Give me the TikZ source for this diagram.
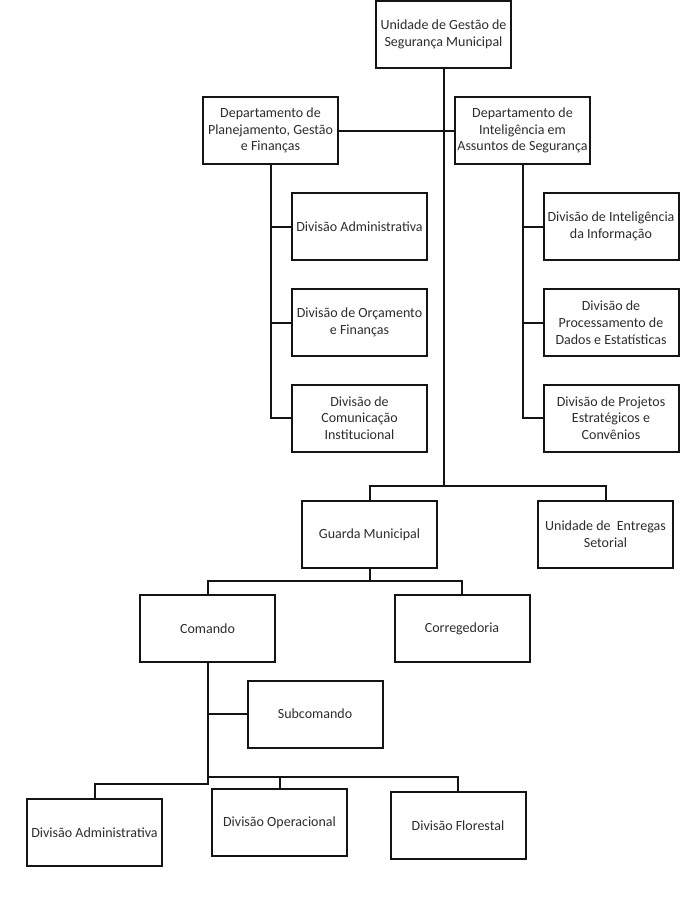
\documentclass[tikz,border=0pt]{standalone}
\usepackage{fontspec}
\setmainfont{Carlito}
\definecolor{txt}{RGB}{45,45,45}
\definecolor{ln}{RGB}{20,20,20}
\begin{document}
\begin{tikzpicture}[x=1pt,y=-1pt,
  box/.style={draw=ln, line width=2pt, minimum width=135pt, minimum height=67pt,
    align=center, inner sep=1pt, text=txt,
    font=\fontsize{14pt}{16.7pt}\selectfont},
  conn/.style={draw=ln, line width=2pt}]
\useasboundingbox (0,0) rectangle (700,908);
\fill[white] (0,0) rectangle (700,908);

\node[box] (top) at (443.5,34.5) {Unidade de Gestão de\\Segurança Municipal};
\node[box] (dL) at (270.5,130.5) {Departamento de\\Planejamento, Gestão\\e Finanças};
\node[box] (dR) at (522.5,130.5) {Departamento de\\Inteligência em\\Assuntos de Segurança};

\node[box] (L1) at (359.5,226.5) {Divisão Administrativa};
\node[box] (L2) at (359.5,322.5) {Divisão de Orçamento\\e Finanças};
\node[box] (L3) at (359.5,418) {Divisão de\\Comunicação\\Institucional};

\node[box] (R1) at (611,226.5) {Divisão de Inteligência\\da Informação};
\node[box] (R2) at (611,322.5) {Divisão de\\Processamento de\\Dados e Estatísticas};
\node[box] (R3) at (611,418) {Divisão de Projetos\\Estratégicos e\\Convênios};

\node[box] (guarda) at (369.5,534.5) {Guarda Municipal};
\node[box] (entregas) at (605.5,534.5) {Unidade de\ \ Entregas\\Setorial};

\node[box] (comando) at (207.5,628.3) {Comando};
\node[box] (correg) at (462,628.5) {Corregedoria};
\node[box] (subcom) at (315,714) {Subcomando};

\node[box] (divadm) at (94.5,832.5) {Divisão Administrativa};
\node[box] (divop) at (279.5,822.5) {Divisão Operacional};
\node[box] (divflo) at (458,825.5) {Divisão Florestal};

% connectors
\coordinate (mainend) at (443.5,486);
\draw[conn] (top.south) -- (mainend);
\draw[conn] (dL.east) -- (dR.west);
\draw[conn] (guarda.north) |- (mainend) -| (entregas.north);

\draw[conn] (dL.south) |- (L3.west);
\draw[conn] (dL.south |- L1.west) -- (L1.west);
\draw[conn] (dL.south |- L2.west) -- (L2.west);

\draw[conn] (dR.south) |- (R3.west);
\draw[conn] (dR.south |- R1.west) -- (R1.west);
\draw[conn] (dR.south |- R2.west) -- (R2.west);

\coordinate (gsplit) at (369.5,580.5);
\draw[conn] (guarda.south) -- (gsplit);
\draw[conn] (comando.north) |- (gsplit) -| (correg.north);

\coordinate (csplit) at (207.5,784);
\coordinate (csplit2) at (207.5,776.5);
\draw[conn] (comando.south) -- (csplit) -| (divadm.north);
\draw[conn] (comando.south |- subcom.west) -- (subcom.west);
\draw[conn] (csplit2) -| (divflo.north);
\draw[conn] (divop.north) -- (divop.north |- csplit2);
\end{tikzpicture}
\end{document}
